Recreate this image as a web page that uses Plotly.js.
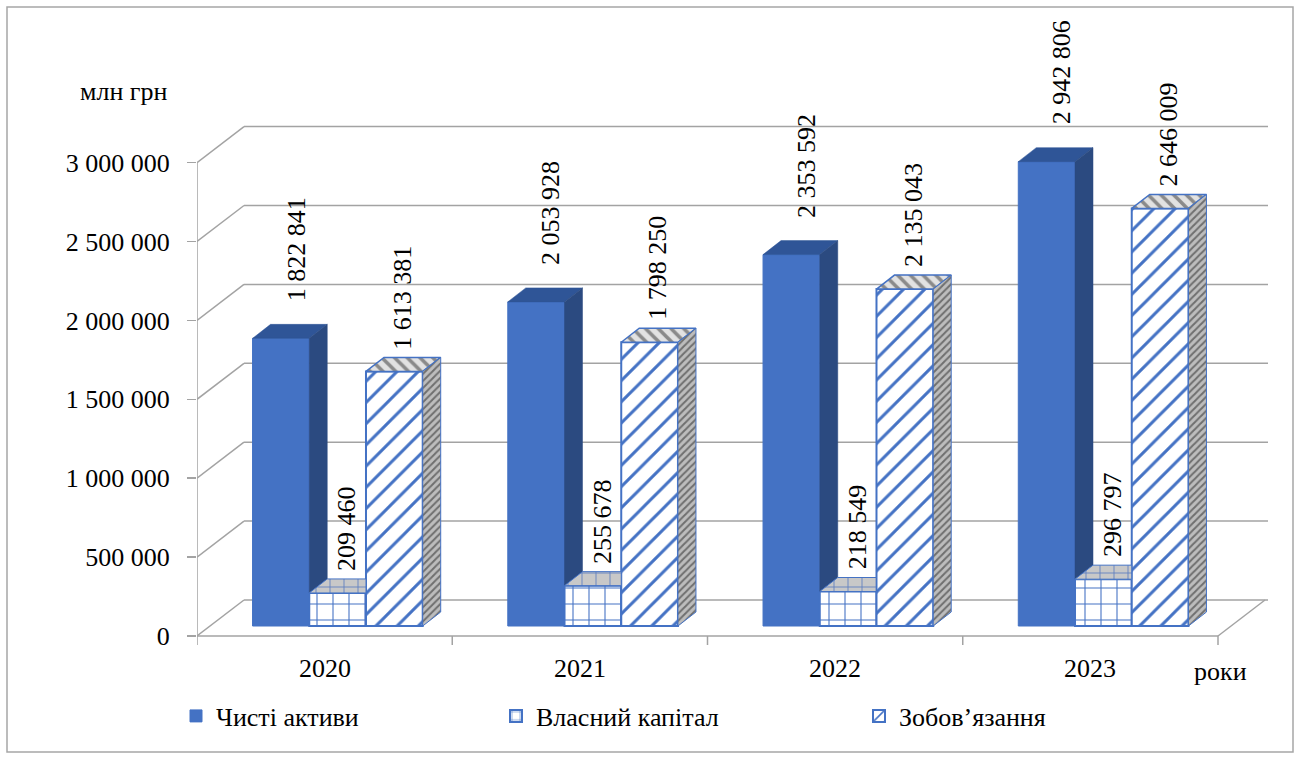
<!DOCTYPE html>
<html>
<head>
<meta charset="utf-8">
<script src="https://cdn.plot.ly/plotly-3.0.1.min.js"></script>
<style>
  html, body { margin: 0; padding: 0; background: #ffffff; }
  #chart { width: 1301px; height: 760px; }
</style>
</head>
<body>
<div id="chart"></div>
<script>
// ---- data ----
const years = ['2020', '2021', '2022', '2023'];
const netAssets = [1822841, 2053928, 2353592, 2942806];
const equity = [209460, 255678, 218549, 296797];
const liabilities = [1613381, 1798250, 2135043, 2646009];
const seriesNames = ['Чисті активи', 'Власний капітал', 'Зобов’язання'];
const yTicks = [0, 500000, 1000000, 1500000, 2000000, 2500000, 3000000];
const unitLabel = 'млн грн';
const xAxisLabel = 'роки';

// ---- layout geometry (pixels) ----
const W = 1301, H = 760;
const PL = 197, PR = 1268, PT = 20, PB = 700;   // plot area
const ZERO_PX = 636;                              // front floor line
const PX_PER_M = 157.8;                           // pixels per 1 000 000
const CAT_PX = (1218 - 197) / 4;                  // one category on the front edge
const K = 1e6 / PX_PER_M;                         // value units per pixel
const WALL_DX = 47, WALL_DY = 36;                 // depth of the back wall
const PLANE_DX = 13, PLANE_DY = 10;               // plane where the columns stand
const BAR_DX = 18, BAR_DY = 14;                   // depth of a column
const BAR_W = 1 / 4.5;                            // column width (category units)

const ux = px => px / CAT_PX;     // horizontal pixels -> x units
const uy = px => px * K;          // vertical pixels -> y units
const paperX = px => (px - PL) / (PR - PL);
const paperY = py => (PB - py) / (PB - PT);

const fmt = n => String(n).replace(/\B(?=(\d{3})+(?!\d))/g, ' ');

const SERIF = 'Liberation Serif';
const BLUE = '#4472C4';
const GRID = '#A3A3A3';

const base = uy(PLANE_DY);
const bdx = ux(BAR_DX), bdy = uy(BAR_DY);
const centers = s => years.map((_, i) => i + 0.5 + ux(PLANE_DX) + (s - 1) * BAR_W);

// ---- front faces of the columns ----
const netTrace = {
  type: 'bar', name: seriesNames[0], x: centers(0), y: netAssets, base: base,
  width: BAR_W, marker: { color: BLUE, line: { color: BLUE, width: 1 } },
  legend: 'legend', hoverinfo: 'skip'
};
const eqTrace = {
  type: 'bar', name: seriesNames[1], x: centers(1), y: equity, base: base,
  width: BAR_W,
  marker: { color: '#ffffff', line: { color: BLUE, width: 2 },
            pattern: { shape: '+', fgcolor: BLUE, bgcolor: '#ffffff', size: 16, solidity: 0.13 } },
  legend: 'legend2', hoverinfo: 'skip'
};
const liabTrace = {
  type: 'bar', name: seriesNames[2], x: centers(2), y: liabilities, base: base,
  width: BAR_W,
  marker: { color: '#ffffff', line: { color: BLUE, width: 2 },
            pattern: { shape: '/', fgcolor: BLUE, bgcolor: '#ffffff', size: 15, solidity: 0.2 } },
  legend: 'legend3', hoverinfo: 'skip'
};

// ---- top and side faces (polygons built from the values) ----
function polyTrace(build, style) {
  const xs = [], ys = [];
  years.forEach((_, i) => {
    build(i).forEach(p => { xs.push(p[0]); ys.push(p[1]); });
    xs.push(null); ys.push(null);
  });
  return Object.assign({
    type: 'scatter', mode: 'lines', x: xs, y: ys, fill: 'toself',
    showlegend: false, hoverinfo: 'skip'
  }, style);
}

const cNet = centers(0), cEq = centers(1), cLiab = centers(2);

// net assets: top face
const netTop = polyTrace(i => {
  const xl = cNet[i] - BAR_W / 2, xr = cNet[i] + BAR_W / 2, t = base + netAssets[i];
  return [[xl, t], [xr, t], [xr + bdx, t + bdy], [xl + bdx, t + bdy], [xl, t]];
}, { fillcolor: '#2F5597', line: { color: '#2F5597', width: 0.5 } });

// net assets: right side, the part above the equity column
const netSide = polyTrace(i => {
  const xr = cNet[i] + BAR_W / 2, t = base + netAssets[i], lo = base + equity[i];
  return [[xr, lo], [xr, t], [xr + bdx, t + bdy], [xr + bdx, lo + bdy], [xr, lo]];
}, { fillcolor: '#2B4A80', line: { color: '#2B4A80', width: 0.5 } });

// equity: top face, up to the liabilities column in front of it
const eqTop = polyTrace(i => {
  const xl = cEq[i] - BAR_W / 2, xr = cEq[i] + BAR_W / 2, t = base + equity[i];
  return [[xl, t], [xr, t], [xr, t + bdy], [xl + bdx, t + bdy], [xl, t]];
}, { fillcolor: '#C8C8C8', line: { color: BLUE, width: 1 },
     fillpattern: { shape: '+', fgcolor: '#5B7DBF', bgcolor: '#C8C8C8', size: 14, solidity: 0.12 } });

// liabilities: top face
const liabTop = polyTrace(i => {
  const xl = cLiab[i] - BAR_W / 2, xr = cLiab[i] + BAR_W / 2, t = base + liabilities[i];
  return [[xl, t], [xr, t], [xr + bdx, t + bdy], [xl + bdx, t + bdy], [xl, t]];
}, { fillcolor: '#D0D0D0', line: { color: BLUE, width: 1.5 },
     fillpattern: { shape: '\\', fgcolor: '#8A8A8A', bgcolor: '#E2E2E2', size: 9, solidity: 0.4 } });

// liabilities: right side
const liabSide = polyTrace(i => {
  const xr = cLiab[i] + BAR_W / 2, t = base + liabilities[i];
  return [[xr, base], [xr, t], [xr + bdx, t + bdy], [xr + bdx, base + bdy], [xr, base]];
}, { fillcolor: '#A6A6A6', line: { color: BLUE, width: 1 },
     fillpattern: { shape: '/', fgcolor: '#6F6F6F', bgcolor: '#BDBDBD', size: 5, solidity: 0.4 } });

// ---- walls, floor and gridlines ----
const wdx = ux(WALL_DX), wdy = uy(WALL_DY);
const xMax = ux(PR - PL);
const gline = (x0, y0, x1, y1, w) => ({
  type: 'line', xref: 'x', yref: 'y', x0, y0, x1, y1, layer: 'below',
  line: { color: GRID, width: w || 1.5 }
});
const shapes = [];
yTicks.forEach(t => {
  shapes.push(gline(0, t, wdx, t + wdy));
  shapes.push(gline(wdx, t + wdy, xMax, t + wdy));
});
// front floor edge and its right depth edge
shapes.push(gline(0, 0, years.length, 0));
shapes.push(gline(years.length, 0, years.length + wdx, wdy));
// vertical value axis
shapes.push(gline(0, 0, 0, yTicks[yTicks.length - 1]));
// category separators below the floor
for (let i = 0; i <= years.length; i++) shapes.push(gline(i, 0, i, -uy(9)));
// outer frame
shapes.push({
  type: 'rect', xref: 'paper', yref: 'paper',
  x0: paperX(7), x1: paperX(1293), y0: paperY(752), y1: paperY(7),
  line: { color: '#A6A6A6', width: 1.5 }, fillcolor: 'rgba(0,0,0,0)'
});

// ---- annotations ----
const annotations = [];
const labelStyle = [
  { values: netAssets, centers: cNet, dx: 15, lift: 21 },
  { values: equity, centers: cEq, dx: 9, lift: 6 },
  { values: liabilities, centers: cLiab, dx: 8, lift: 6 }
];
labelStyle.forEach(st => {
  st.values.forEach((v, i) => {
    annotations.push({
      x: st.centers[i], y: base + v + bdy, xref: 'x', yref: 'y',
      text: fmt(v), textangle: -90, showarrow: false,
      xanchor: 'center', yanchor: 'bottom', xshift: st.dx, yshift: st.lift,
      font: { family: SERIF, size: 26, color: '#000000' }
    });
  });
});
years.forEach((yr, i) => {
  annotations.push({
    x: i + 0.5, y: -uy(668 - ZERO_PX), xref: 'x', yref: 'y', text: yr,
    showarrow: false, xanchor: 'center', yanchor: 'middle',
    font: { family: SERIF, size: 26, color: '#000000' }
  });
});
annotations.push({
  x: paperX(124), y: paperY(92), xref: 'paper', yref: 'paper', text: unitLabel,
  showarrow: false, xanchor: 'center', yanchor: 'middle',
  font: { family: SERIF, size: 26, color: '#000000' }
});
annotations.push({
  x: paperX(1220), y: paperY(671), xref: 'paper', yref: 'paper', text: xAxisLabel,
  showarrow: false, xanchor: 'center', yanchor: 'middle',
  font: { family: SERIF, size: 26, color: '#000000' }
});

const legendBase = {
  orientation: 'h', xanchor: 'left', yanchor: 'middle', y: paperY(716),
  bgcolor: 'rgba(0,0,0,0)', borderwidth: 0, itemwidth: 30,
  font: { family: SERIF, size: 26, color: '#000000' }
};

const layout = {
  width: W, height: H, autosize: false,
  margin: { l: PL, r: W - PR, t: PT, b: H - PB, pad: 0 },
  paper_bgcolor: '#ffffff', plot_bgcolor: '#ffffff',
  font: { family: SERIF },
  barmode: 'overlay', hovermode: false,
  xaxis: { range: [0, xMax], visible: false, fixedrange: true },
  yaxis: {
    range: [-uy(PB - ZERO_PX), uy(ZERO_PX - PT)],
    tickvals: yTicks, ticktext: yTicks.map(fmt), tickmode: 'array',
    ticks: 'outside', ticklen: 9, tickwidth: 1.5, tickcolor: GRID,
    ticklabelstandoff: 12,
    showgrid: false, zeroline: false, showline: false, fixedrange: true,
    tickfont: { family: SERIF, size: 26, color: '#000000' }
  },
  shapes: shapes,
  annotations: annotations,
  legend: Object.assign({}, legendBase, { x: paperX(176) }),
  legend2: Object.assign({}, legendBase, { x: paperX(496) }),
  legend3: Object.assign({}, legendBase, { x: paperX(859) }),
  showlegend: true
};

const traces = [netTrace, eqTrace, liabTrace, netTop, netSide, eqTop, liabTop, liabSide];
Plotly.newPlot('chart', traces, layout, { displayModeBar: false, staticPlot: true });
</script>
</body>
</html>
